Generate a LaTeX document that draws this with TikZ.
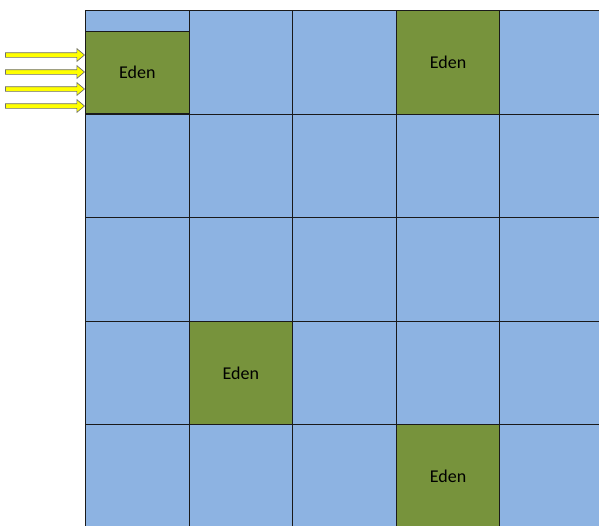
\documentclass[tikz,border=0pt]{standalone}
\usepackage{fontspec}
\setmainfont{Carlito}
\usetikzlibrary{positioning,shapes.arrows}
\definecolor{cellFill}{HTML}{8DB3E2}
\definecolor{edenFill}{HTML}{77933C}
\definecolor{gridStroke}{HTML}{1A1A1A}
\definecolor{arrowFill}{HTML}{FFFF00}
\definecolor{arrowStroke}{HTML}{6E6E6E}

\begin{document}
\begin{tikzpicture}[
  x=1pt, y=-1pt,
  font=\fontsize{18}{21}\selectfont,
  cell/.style  ={draw=gridStroke, fill=cellFill, line width=1pt, minimum width=103.6pt, minimum height=103.6pt, inner sep=0pt, anchor=north west},
  eden/.style  ={cell, fill=edenFill},
  inflow/.style={single arrow, draw=arrowStroke, fill=arrowFill, line width=0.7pt, inner xsep=0pt, inner ysep=2pt, minimum height=79pt, single arrow head extend=4pt, single arrow tip angle=80, anchor=tip},
]
\useasboundingbox (0,0) rectangle (599,525);
\clip (0,0) rectangle (599,525);

% ============ Habitat grid ============
\foreach \r in {0,...,4} {
  \foreach \c in {0,...,4} {
    \node[cell] (c\r\c) at ({85+103.6*\c},{10+103.6*\r}) {};
  }
}

% ============ Eden patches ============
\node[eden, minimum height=82pt] (eden00) at (85,31) {Eden};
\node[eden] (eden03) at (c03.north west) {Eden};
\node[eden] (eden31) at (c31.north west) {Eden};
\node[eden] (eden43) at (c43.north west) {Eden};

% ============ Inflow arrows ============
\foreach \y [count=\i] in {55,72,89,106} {
  \coordinate (h\i) at (0,\y);
  \node[inflow] (in\i) at (eden00.west |- h\i) {};
}

\end{tikzpicture}
\end{document}
